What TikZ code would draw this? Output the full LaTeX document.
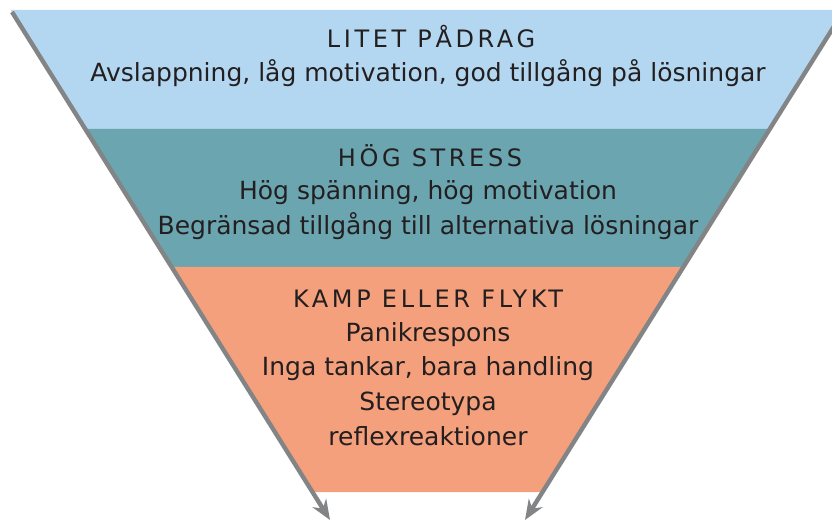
\documentclass[tikz,border=0pt]{standalone}
\usepackage{fontspec}
\setmainfont{DejaVu Sans}
\usetikzlibrary{arrows.meta}
\definecolor{bandblue}{HTML}{B3D7F0}
\definecolor{bandteal}{HTML}{6BA5B0}
\definecolor{bandorange}{HTML}{F5A07C}
\definecolor{edgegray}{HTML}{838486}
\definecolor{txt}{HTML}{231F20}
\begin{document}
\begin{tikzpicture}[x=1pt,y=-1pt,
  edge/.style={draw=edgegray,line width=4.4pt,-{Stealth[length=20pt,width=16pt]}},
  head/.style={anchor=base,text=txt,font=\fontsize{24}{28}\selectfont\addfontfeature{LetterSpace=15}},
  body/.style={anchor=base,text=txt,font=\fontsize{25}{30}\selectfont},
]
\useasboundingbox (0,0) rectangle (832,521);
% bands
\fill[bandblue] (10.7,10) -- (844.3,10) -- (769.8,129) -- (85.2,129) -- cycle;
\fill[bandteal] (85.2,129) -- (769.8,129) -- (683.4,267) -- (171.6,267) -- cycle;
\fill[bandorange] (171.6,267) -- (683.4,267) -- (542.5,492) -- (312.5,492) -- cycle;
% funnel edges
\coordinate (tl) at (12,12);
\coordinate (bl) at (330,520);
\coordinate (tr) at (843,12);
\coordinate (br) at (525,520);
\draw[edge] (tl) -- (bl);
\draw[edge] (tr) -- (br);
% texts
\node[head] (h1) at (431,48) {LITET PÅDRAG};
\node[body] (b1) at (428,82) {Avslappning, låg motivation, god tillgång på lösningar};
\node[head] (h2) at (430,167) {HÖG STRESS};
\node[body] (b2) at (428,200) {Hög spänning, hög motivation};
\node[body] (b3) at (428,235) {Begränsad tillgång till alternativa lösningar};
\node[head] (h3) at (428,307) {KAMP ELLER FLYKT};
\node[body] (b4) at (428,341) {Panikrespons};
\node[body] (b5) at (428,375) {Inga tankar, bara handling};
\node[body] (b6) at (428,410) {Stereotypa};
\node[body] (b7) at (428,445) {reflexreaktioner};
\end{tikzpicture}
\end{document}
